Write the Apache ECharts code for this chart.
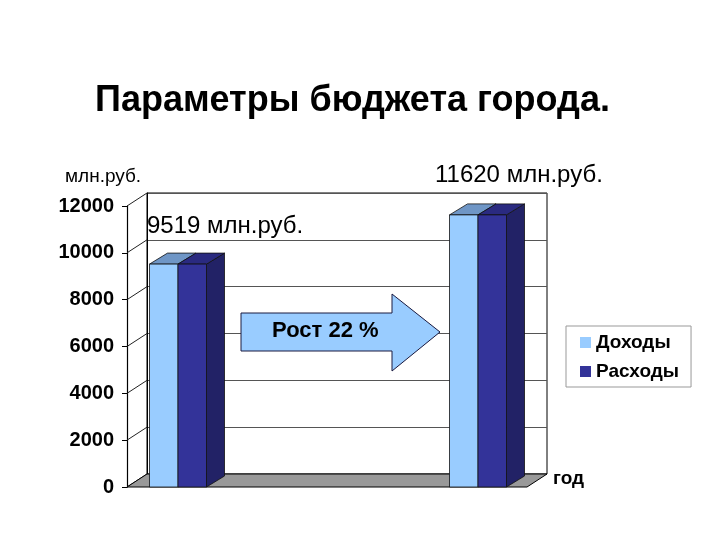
<!DOCTYPE html>
<html>
<head>
<meta charset="utf-8">
<script src="https://cdn.jsdelivr.net/npm/echarts@6/dist/echarts.min.js"></script>
<style>
  html, body { margin: 0; padding: 0; background: #fff; }
  #chart { width: 720px; height: 540px; }
</style>
</head>
<body>
<div id="chart"></div>
<script>
// данные
var years = ['2007', '2008'];
var incomes = [9519, 11620];   // Доходы
var expenses = [9519, 11620];  // Расходы
var yTicks = [0, 2000, 4000, 6000, 8000, 10000, 12000];

var FONT = '"Liberation Sans", Arial, sans-serif';
var DX = 20, DY = -13;     // глубина стенок
var BDX = 18, BDY = -11;   // глубина столбиков
var growth = Math.round((incomes[1] / incomes[0] - 1) * 100);

var chart = echarts.init(document.getElementById('chart'));
window.addEventListener('resize', function () {
  chart.resize();
});

function bar3d(colors, side) {
  return function (params, api) {
    var top = api.coord([api.value(0), api.value(1)]);
    var base = api.coord([api.value(0), 0]);
    var w = api.size([1, 0])[0] * 0.095;
    var x0 = side === 0 ? top[0] - w : top[0];
    var x1 = x0 + w;
    var y0 = top[1], y1 = base[1];
    var line = { stroke: '#111', lineWidth: 0.8 };
    return {
      type: 'group',
      children: [
        { type: 'polygon', shape: { points: [[x1, y0], [x1 + BDX, y0 + BDY], [x1 + BDX, y1 + BDY], [x1, y1]] },
          style: Object.assign({ fill: colors[2] }, line) },
        { type: 'polygon', shape: { points: [[x0, y0], [x1, y0], [x1 + BDX, y0 + BDY], [x0 + BDX, y0 + BDY]] },
          style: Object.assign({ fill: colors[1] }, line) },
        { type: 'rect', shape: { x: x0, y: y0, width: w, height: y1 - y0 },
          style: Object.assign({ fill: colors[0] }, line) }
      ]
    };
  };
}

var option = {
  backgroundColor: '#fff',
  animation: false,
  grid: [
    // передняя плоскость
    { left: 127, top: 206, width: 400, height: 281 },
    // задняя стенка
    { left: 147, top: 193, width: 400, height: 281, show: true, backgroundColor: '#fff',
      borderColor: '#000', borderWidth: 1 },
    // столбики
    { left: 28, top: 206, width: 600, height: 281 }
  ],
  xAxis: [
    { gridIndex: 0, type: 'category', data: years, show: false },
    { gridIndex: 1, type: 'category', data: years, show: false },
    { gridIndex: 2, type: 'category', data: years, show: false }
  ],
  yAxis: [
    { gridIndex: 0, type: 'value', min: 0, max: 12000, interval: 2000,
      axisLine: { show: true, lineStyle: { color: '#000', width: 1.2 } },
      axisTick: { show: true, length: 5, lineStyle: { color: '#000' } },
      splitLine: { show: false },
      axisLabel: { color: '#000', fontFamily: FONT, fontSize: 20, fontWeight: 'bold', margin: 13,
        formatter: function (v) { return String(v); } } },
    { gridIndex: 1, type: 'value', min: 0, max: 12000, interval: 2000, show: true,
      axisLine: { show: true, lineStyle: { color: '#000' } },
      axisTick: { show: false }, axisLabel: { show: false },
      splitLine: { show: true, lineStyle: { color: '#555', width: 1 } } },
    { gridIndex: 2, type: 'value', min: 0, max: 12000, show: false }
  ],
  series: [
    // левая стенка: наклонные линии сетки
    {
      type: 'custom', xAxisIndex: 0, yAxisIndex: 0, silent: true, z: 1,
      data: yTicks.map(function (v) { return [0, v]; }),
      renderItem: function (params, api) {
        var p = api.coord([0, api.value(1)]);
        var x = params.coordSys.x;
        return { type: 'line', shape: { x1: x, y1: p[1], x2: x + DX, y2: p[1] + DY },
          style: { stroke: '#222', lineWidth: 1 } };
      }
    },
    // пол
    {
      type: 'custom', xAxisIndex: 0, yAxisIndex: 0, silent: true, z: 2,
      data: [[0, 0]],
      renderItem: function (params, api) {
        var cs = params.coordSys;
        var y = api.coord([0, 0])[1];
        return { type: 'polygon',
          shape: { points: [[cs.x, y], [cs.x + cs.width, y], [cs.x + cs.width + DX, y + DY], [cs.x + DX, y + DY]] },
          style: { fill: '#999999', stroke: '#000', lineWidth: 1 } };
      }
    },
    {
      name: 'Доходы', type: 'custom', xAxisIndex: 2, yAxisIndex: 2, z: 3,
      data: incomes.map(function (v, i) { return [i, v]; }),
      itemStyle: { color: '#99ccff' },
      renderItem: bar3d(['#99ccff', '#6f96c6', '#5577aa'], 0)
    },
    {
      name: 'Расходы', type: 'custom', xAxisIndex: 2, yAxisIndex: 2, z: 4,
      data: expenses.map(function (v, i) { return [i, v]; }),
      itemStyle: { color: '#333399' },
      renderItem: bar3d(['#333399', '#2a2a80', '#222266'], 1)
    }
  ],
  legend: {
    orient: 'vertical', left: 566, top: 326, padding: [7, 12, 6, 14],
    borderColor: '#999', borderWidth: 1, backgroundColor: '#fff',
    itemWidth: 11, itemHeight: 11, itemGap: 10, icon: 'rect',
    data: ['Доходы', 'Расходы'],
    textStyle: { fontFamily: FONT, fontSize: 19, fontWeight: 'bold', color: '#000' }
  },
  graphic: [
    { type: 'text', left: 95, top: 83, style: { text: 'Параметры бюджета города.',
      font: 'bold 36px ' + FONT, fill: '#000' } },
    { type: 'text', left: 65, top: 167, style: { text: 'млн.руб.', font: '19px ' + FONT, fill: '#000' } },
    { type: 'text', left: 435, top: 163, style: { text: incomes[1] + ' млн.руб.', font: '24px ' + FONT, fill: '#000' } },
    { type: 'text', left: 147, top: 214, z: 10, style: { text: incomes[0] + ' млн.руб.', font: '24px ' + FONT, fill: '#000' } },
    { type: 'text', left: 553, top: 469, style: { text: 'год', font: 'bold 19px ' + FONT, fill: '#000' } },
    { type: 'polygon', z: 10, shape: { points: [[241, 313], [392, 313], [392, 294], [440, 332], [392, 371], [392, 351], [241, 351]] },
      style: { fill: '#99ccff', stroke: '#1a1a40', lineWidth: 1 } },
    { type: 'text', z: 11, left: 272, top: 320, style: { text: 'Рост ' + growth + ' %', font: 'bold 22px ' + FONT, fill: '#000' } }
  ]
};
chart.setOption(option);
</script>
</body>
</html>
